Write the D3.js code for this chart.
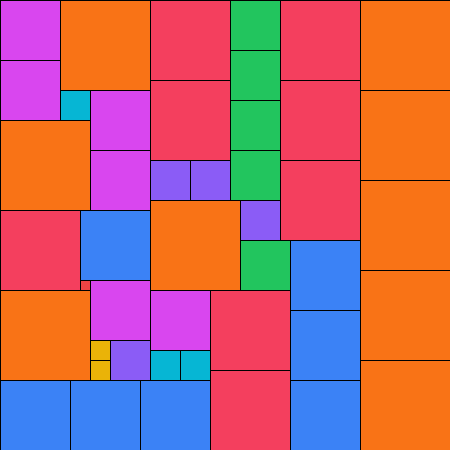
<!DOCTYPE html>
<html>
<head>
<meta charset="utf-8">
<script src="https://cdn.jsdelivr.net/npm/d3@7"></script>
<style>
  html, body { margin: 0; padding: 0; background: #ffffff; }
  svg { display: block; }
</style>
</head>
<body>
<svg id="chart" width="450" height="450"></svg>
<script>
// Partridge tiling: n squares of side n (n = 1..9), grid of 45 x 45 units
const sizes  = [1, 2, 3, 4, 5, 6, 7, 8, 9];
const colors = ["#ef4444", "#eab308", "#06b6d4", "#8b5cf6", "#22c55e", "#d946ef", "#3b82f6", "#f43f5e", "#f97316"];
// grid positions (column, row) of each square, grouped by size
const pos1 = [[8, 28]];
const pos2 = [[9, 34], [9, 36]];
const pos3 = [[6, 9], [15, 35], [18, 35]];
const pos4 = [[15, 16], [19, 16], [24, 20], [11, 34]];
const pos5 = [[23, 0], [23, 5], [23, 10], [23, 15], [24, 24]];
const pos6 = [[0, 0], [0, 6], [9, 9], [9, 15], [9, 28], [15, 29]];
const pos7 = [[8, 21], [0, 38], [7, 38], [14, 38], [29, 24], [29, 31], [29, 38]];
const pos8 = [[15, 0], [15, 8], [28, 0], [28, 8], [28, 16], [0, 21], [21, 29], [21, 37]];
const pos9 = [[6, 0], [0, 12], [0, 29], [15, 20], [36, 0], [36, 9], [36, 18], [36, 27], [36, 36]];
const positions = [pos1, pos2, pos3, pos4, pos5, pos6, pos7, pos8, pos9];
const gridSize = 45;

const W = 450, H = 450;
const svg = d3.select("#chart");

const x = d3.scaleLinear().domain([0, gridSize]).range([0, W]);
const y = d3.scaleLinear().domain([0, gridSize]).range([0, H]);
const color = d3.scaleOrdinal().domain(sizes).range(colors);

const squares = [];
sizes.forEach((s, i) => {
  positions[i].forEach(([c, r]) => squares.push({ size: s, col: c, row: r }));
});

svg.append("g")
  .attr("shape-rendering", "crispEdges")
  .selectAll("rect")
  .data(squares)
  .join("rect")
  .attr("x", d => x(d.col))
  .attr("y", d => y(d.row))
  .attr("width", d => x(d.col + d.size) - x(d.col))
  .attr("height", d => y(d.row + d.size) - y(d.row))
  .attr("fill", d => color(d.size))
  .attr("stroke", "#000")
  .attr("stroke-width", 1);
</script>
</body>
</html>
